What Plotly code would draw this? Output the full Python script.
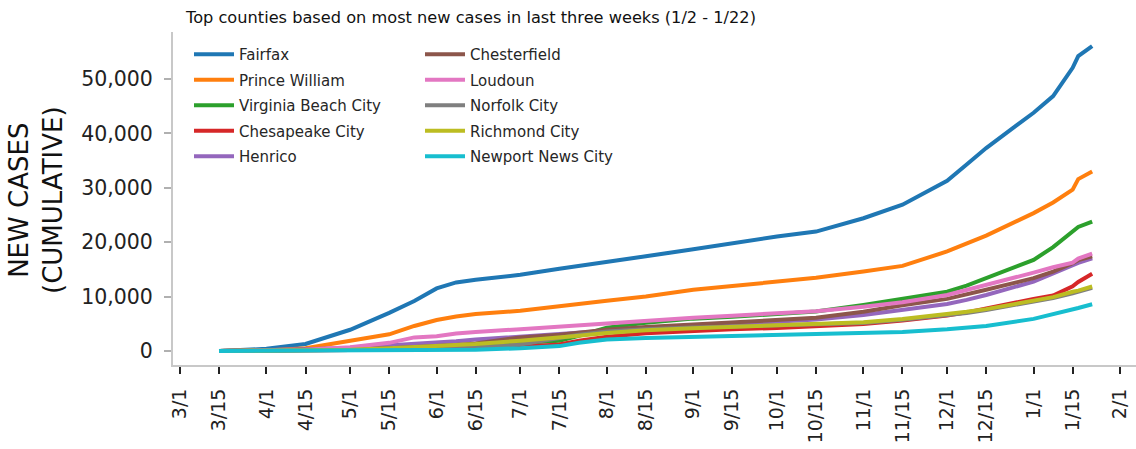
import plotly.graph_objects as go

dates = ["2020-03-15", "2020-04-01", "2020-04-15", "2020-05-01", "2020-05-15", "2020-05-24",
         "2020-06-01", "2020-06-08", "2020-06-15", "2020-07-01", "2020-07-15", "2020-07-22",
         "2020-08-01", "2020-08-15", "2020-09-01", "2020-09-15", "2020-10-01", "2020-10-15",
         "2020-11-01", "2020-11-15", "2020-12-01", "2020-12-08", "2020-12-15", "2021-01-01",
         "2021-01-08", "2021-01-15", "2021-01-17", "2021-01-22"]

fairfax = [0, 400, 1300, 3900, 7000, 9200, 11500, 12600, 13100, 14000, 15100, 15600, 16300, 17400,
           18700, 19800, 21050, 21950, 24400, 26900, 31300, 34300, 37300, 43800, 46850, 52050, 54200, 56050]
prince_william = [0, 100, 500, 1850, 3070, 4600, 5700, 6350, 6800, 7400, 8300, 8700, 9250, 10000,
                  11250, 11950, 12700, 13450, 14600, 15650, 18300, 19700, 21200, 25350, 27300, 29650, 31600, 33000]
virginia_beach = [0, 50, 200, 400, 600, 700, 800, 900, 1000, 1450, 1900, 2800, 4300, 5200,
                  5950, 6300, 6750, 7250, 8470, 9580, 10900, 12000, 13400, 16750, 19100, 22000, 22800, 23800]
chesapeake = [0, 20, 80, 200, 300, 350, 400, 450, 500, 800, 1200, 1900, 2600, 3250,
              3750, 4000, 4230, 4600, 4970, 5600, 6500, 7100, 7850, 9580, 10200, 11900, 12700, 14200]
henrico = [0, 100, 300, 600, 1000, 1300, 1500, 1800, 2100, 2700, 3100, 3400, 3700, 4100,
           4600, 4900, 5300, 5800, 6630, 7550, 8650, 9400, 10300, 12750, 14300, 15650, 16200, 17050]
chesterfield = [0, 50, 150, 300, 500, 700, 900, 1100, 1400, 2500, 3000, 3400, 3900, 4400,
                4900, 5200, 5600, 6100, 7200, 8400, 9580, 10400, 11250, 13400, 14600, 16150, 16700, 17400]
loudoun = [0, 80, 250, 700, 1500, 2500, 2700, 3200, 3500, 4000, 4500, 4700, 5000, 5600,
           6100, 6500, 6900, 7300, 8150, 8960, 10300, 11200, 12150, 14400, 15400, 16250, 17000, 17900]
norfolk = [0, 20, 100, 200, 300, 380, 450, 550, 650, 1200, 2400, 3000, 3600, 4000,
           4300, 4500, 4700, 4900, 5150, 5750, 6550, 7000, 7550, 9100, 9750, 10600, 10900, 11600]
richmond = [0, 30, 100, 250, 500, 700, 900, 1100, 1300, 1900, 2400, 2800, 3300, 3800,
            4200, 4450, 4700, 5000, 5300, 5900, 6700, 7200, 7700, 9300, 9900, 10900, 11100, 11850]
newport_news = [0, 10, 40, 80, 120, 150, 170, 200, 230, 500, 900, 1500, 2100, 2400,
                2600, 2750, 2900, 3050, 3250, 3500, 4000, 4300, 4600, 5900, 6700, 7600, 7900, 8600]

names = ["Fairfax", "Prince William", "Virginia Beach City", "Chesapeake City", "Henrico",
         "Chesterfield", "Loudoun", "Norfolk City", "Richmond City", "Newport News City"]
series = [fairfax, prince_william, virginia_beach, chesapeake, henrico,
          chesterfield, loudoun, norfolk, richmond, newport_news]
colors = ["#1f77b4", "#ff7f0e", "#2ca02c", "#d62728", "#9467bd",
          "#8c564b", "#e377c2", "#7f7f7f", "#bcbd22", "#17becf"]

tick_dates = ["2020-03-01", "2020-03-15", "2020-04-01", "2020-04-15", "2020-05-01", "2020-05-15",
              "2020-06-01", "2020-06-15", "2020-07-01", "2020-07-15", "2020-08-01", "2020-08-15",
              "2020-09-01", "2020-09-15", "2020-10-01", "2020-10-15", "2020-11-01", "2020-11-15",
              "2020-12-01", "2020-12-15", "2021-01-01", "2021-01-15", "2021-02-01"]
tick_text = ["3/1", "3/15", "4/1", "4/15", "5/1", "5/15", "6/1", "6/15", "7/1", "7/15", "8/1", "8/15",
             "9/1", "9/15", "10/1", "10/15", "11/1", "11/15", "12/1", "12/15", "1/1", "1/15", "2/1"]
y_ticks = [0, 10000, 20000, 30000, 40000, 50000]

title_text = "Top counties based on most new cases in last three weeks (1/2 - 1/22)"

W, H = 1136, 449
L, R, T, B = 173, 0, 32, 84
pw = W - L - R
ph = H - T - B


def px(xs):  # screen x -> paper x
    return (xs - L) / pw


def py(ys):  # screen y -> paper y
    return 1 - (ys - T) / ph


FONT = "DejaVu Sans"

fig = go.Figure()
for i, (name, vals, col) in enumerate(zip(names, series, colors)):
    fig.add_trace(go.Scatter(
        x=dates, y=vals, mode="lines", name=name,
        line=dict(color=col, width=4),
        legend="legend" if i < 5 else "legend2",
        legendgroup=name,
    ))

legend_common = dict(
    font=dict(family=FONT, size=15, color="#262626"),
    bgcolor="rgba(0,0,0,0)", borderwidth=0,
    xanchor="left", yanchor="top", tracegroupgap=3,
    traceorder="grouped", itemwidth=40,
)

fig.update_layout(
    width=W, height=H,
    margin=dict(l=L, r=R, t=T, b=B),
    plot_bgcolor="white", paper_bgcolor="white",
    font=dict(family=FONT, color="#262626"),
    showlegend=True,
    legend=dict(x=px(189), y=py(38), **legend_common),
    legend2=dict(x=px(420), y=py(38), **legend_common),
    xaxis=dict(
        type="date", automargin=False,
        range=["2020-02-27 12:00", "2021-02-06 17:00"],
        tickvals=tick_dates, ticktext=tick_text, tickangle=-90,
        tickfont=dict(family=FONT, size=19, color="#222222"),
        ticks="outside", ticklen=7, tickwidth=2, tickcolor="#222222",
        ticklabelstandoff=7,
        showline=True, linecolor="#c8c8c8", linewidth=2,
        showgrid=False, zeroline=False,
    ),
    yaxis=dict(
        automargin=False,
        range=[-2574, 58640],
        tickvals=y_ticks, tickformat=",",
        tickfont=dict(family=FONT, size=20.5, color="#222222"),
        ticks="outside", ticklen=7, tickwidth=2, tickcolor="#b0b0b0",
        ticklabelstandoff=7,
        showline=True, linecolor="#c8c8c8", linewidth=2,
        showgrid=False, zeroline=False,
    ),
    annotations=[
        dict(text=title_text, xref="paper", yref="paper",
             x=px(183), y=py(17), xanchor="left", yanchor="middle",
             showarrow=False, font=dict(family=FONT, size=16.2, color="#111111")),
        dict(text="NEW CASES<br>(CUMULATIVE)", xref="paper", yref="paper",
             x=px(35.5), y=py(200.5), xanchor="center", yanchor="middle",
             textangle=-90, showarrow=False,
             font=dict(family=FONT, size=26, color="#111111")),
    ],
)

fig.write_html("out.html", config={"displayModeBar": False},
               post_script="document.body.style.margin='0';")
